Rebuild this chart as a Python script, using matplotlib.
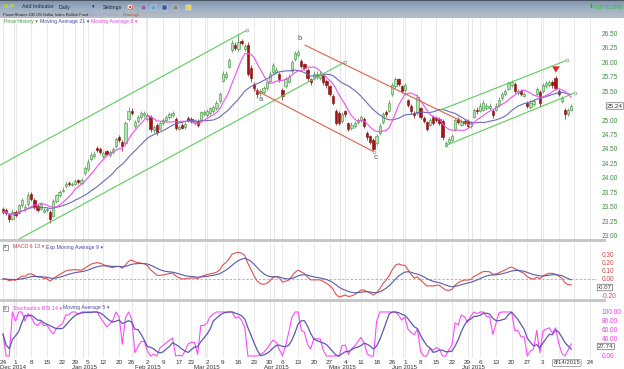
import matplotlib
matplotlib.use("Agg")
import matplotlib.pyplot as plt
import matplotlib.transforms as mtransforms
from matplotlib.patches import Rectangle, Circle
import numpy as np
import pandas as pd

plt.rcParams["font.family"] = ["Liberation Sans", "DejaVu Sans"]

# ---- datos (UUP diario, 24 nov 2014 - 14 ago 2015) ----
feriados = ["2014-11-27", "2014-12-25", "2015-01-01", "2015-01-19", "2015-02-16",
            "2015-04-03", "2015-05-25", "2015-07-03"]

opens = [23.47, 23.45, 23.36, 23.30, 23.42, 23.40, 23.53, 23.46, 23.55, 23.72,
         23.62, 23.52, 23.47, 23.42, 23.44, 23.42, 23.35, 23.60, 23.70, 23.78,
         23.86, 23.92, 23.88, 23.90, 23.96, 23.92, 24.08, 24.15, 24.32, 24.38,
         24.52, 24.50, 24.38, 24.46, 24.40, 24.44, 24.55, 24.70, 24.62, 24.60,
         25.02, 25.16, 24.90, 24.98, 25.05, 25.08, 25.02, 25.05, 24.82, 24.92,
         24.85, 24.95, 25.00, 25.05, 25.08, 25.02, 24.85, 24.92, 24.88, 25.04,
         25.02, 24.94, 24.98, 25.00, 25.10, 25.08, 25.12, 25.15, 25.20, 25.32,
         25.68, 25.74, 25.92, 26.20, 26.30, 26.22, 26.36, 26.22, 26.30, 25.90,
         25.62, 25.52, 25.46, 25.48, 25.55, 25.68, 25.82, 25.82, 25.80, 25.52,
         25.58, 25.66, 25.84, 26.05, 26.12, 26.02, 25.96, 25.86, 25.70, 25.72,
         25.74, 25.72, 25.78, 25.68, 25.58, 25.42, 25.16, 25.12, 24.98, 25.15,
         24.94, 24.86, 24.90, 24.96, 25.00, 25.02, 24.78, 24.72, 24.66, 24.60,
         24.78, 24.96, 25.14, 25.16, 25.45, 25.58, 25.70, 25.58, 25.52, 25.34,
         25.24, 25.12, 25.12, 25.20, 25.04, 24.96, 24.92, 25.05, 25.04, 25.02,
         24.98, 24.56, 24.62, 24.66, 24.84, 25.02, 24.92, 24.99, 24.98, 24.90,
         25.06, 25.18, 25.16, 25.18, 25.20, 25.20, 25.16, 25.18, 25.26, 25.38,
         25.44, 25.54, 25.60, 25.62, 25.46, 25.50, 25.42, 25.30, 25.22, 25.28,
         25.45, 25.48, 25.50, 25.58, 25.60, 25.66, 25.72, 25.50, 25.33, 25.18,
         25.10, 25.18]
highs = [23.50, 23.48, 23.40, 23.46, 23.45, 23.56, 23.66, 23.55, 23.76, 23.76,
         23.65, 23.55, 23.58, 23.49, 23.50, 23.45, 23.63, 23.73, 23.79, 23.84,
         23.94, 23.95, 23.93, 23.98, 23.99, 24.00, 24.20, 24.32, 24.44, 24.46,
         24.55, 24.53, 24.47, 24.49, 24.48, 24.54, 24.70, 24.74, 24.65, 24.98,
         25.22, 25.20, 25.00, 25.08, 25.16, 25.16, 25.12, 25.08, 24.92, 24.95,
         24.98, 25.04, 25.08, 25.14, 25.16, 25.05, 24.92, 24.95, 24.97, 25.07,
         25.05, 25.01, 25.01, 25.16, 25.17, 25.19, 25.23, 25.26, 25.34, 25.49,
         25.84, 25.84, 26.07, 26.38, 26.34, 26.48, 26.40, 26.31, 26.34, 25.94,
         25.66, 25.55, 25.54, 25.59, 25.68, 25.84, 25.99, 25.91, 25.83, 25.56,
         25.74, 25.79, 26.04, 26.19, 26.21, 26.06, 25.99, 25.89, 25.73, 25.84,
         25.84, 25.84, 25.81, 25.71, 25.61, 25.45, 25.19, 25.15, 25.14, 25.18,
         24.97, 24.96, 24.99, 25.04, 25.08, 25.05, 24.81, 24.75, 24.69, 24.76,
         24.94, 25.14, 25.17, 25.34, 25.64, 25.74, 25.73, 25.61, 25.64, 25.37,
         25.27, 25.15, 25.44, 25.23, 25.07, 24.99, 25.04, 25.08, 25.07, 25.05,
         25.01, 24.64, 24.71, 24.76, 25.04, 25.05, 25.01, 25.02, 25.01, 24.99,
         25.21, 25.22, 25.29, 25.34, 25.29, 25.29, 25.19, 25.29, 25.39, 25.49,
         25.54, 25.67, 25.69, 25.65, 25.54, 25.53, 25.49, 25.33, 25.34, 25.36,
         25.57, 25.51, 25.64, 25.67, 25.69, 25.69, 25.76, 25.53, 25.42, 25.21,
         25.21, 25.28]
lows = [23.38, 23.37, 23.24, 23.28, 23.33, 23.38, 23.50, 23.43, 23.52, 23.60,
        23.47, 23.41, 23.44, 23.40, 23.41, 23.22, 23.33, 23.57, 23.67, 23.75,
        23.83, 23.87, 23.86, 23.88, 23.90, 23.89, 24.05, 24.12, 24.29, 24.35,
        24.45, 24.42, 24.35, 24.39, 24.37, 24.41, 24.52, 24.62, 24.47, 24.57,
        24.99, 25.08, 24.86, 24.95, 25.02, 25.05, 24.99, 24.80, 24.78, 24.75,
        24.82, 24.92, 24.97, 25.02, 25.05, 24.83, 24.82, 24.84, 24.85, 24.97,
        24.95, 24.91, 24.88, 24.97, 25.07, 25.05, 25.09, 25.12, 25.17, 25.29,
        25.65, 25.71, 25.89, 26.17, 26.20, 26.19, 26.29, 26.19, 25.76, 25.66,
        25.50, 25.38, 25.42, 25.45, 25.52, 25.65, 25.79, 25.79, 25.66, 25.34,
        25.55, 25.63, 25.81, 26.02, 26.09, 25.89, 25.86, 25.68, 25.61, 25.69,
        25.71, 25.69, 25.61, 25.56, 25.41, 25.26, 24.91, 24.91, 24.95, 25.06,
        24.81, 24.83, 24.87, 24.93, 24.97, 24.86, 24.66, 24.58, 24.45, 24.57,
        24.75, 24.93, 25.06, 25.13, 25.42, 25.55, 25.58, 25.46, 25.49, 25.22,
        25.11, 25.04, 25.09, 25.01, 24.94, 24.81, 24.89, 24.91, 24.96, 24.91,
        24.66, 24.53, 24.59, 24.63, 24.81, 24.93, 24.89, 24.91, 24.86, 24.87,
        25.03, 25.11, 25.13, 25.15, 25.17, 25.17, 25.04, 25.15, 25.23, 25.35,
        25.41, 25.51, 25.57, 25.46, 25.43, 25.41, 25.39, 25.21, 25.19, 25.25,
        25.42, 25.22, 25.47, 25.55, 25.57, 25.56, 25.51, 25.41, 25.30, 25.02,
        25.07, 25.15]
closes = [23.42, 23.40, 23.29, 23.42, 23.36, 23.53, 23.62, 23.50, 23.70, 23.64,
          23.50, 23.45, 23.55, 23.45, 23.47, 23.30, 23.60, 23.70, 23.75, 23.80,
          23.90, 23.90, 23.90, 23.95, 23.93, 23.97, 24.17, 24.28, 24.40, 24.42,
          24.48, 24.45, 24.43, 24.42, 24.45, 24.50, 24.67, 24.65, 24.55, 24.95,
          25.15, 25.12, 24.97, 25.05, 25.12, 25.12, 25.08, 24.85, 24.88, 24.80,
          24.95, 25.00, 25.05, 25.10, 25.12, 24.87, 24.88, 24.87, 24.93, 25.00,
          24.98, 24.98, 24.92, 25.13, 25.13, 25.15, 25.20, 25.22, 25.30, 25.45,
          25.80, 25.80, 26.03, 26.33, 26.25, 26.35, 26.33, 26.27, 25.80, 25.72,
          25.55, 25.45, 25.50, 25.55, 25.65, 25.80, 25.95, 25.87, 25.70, 25.42,
          25.70, 25.75, 26.00, 26.15, 26.17, 25.93, 25.90, 25.72, 25.65, 25.80,
          25.80, 25.80, 25.65, 25.60, 25.45, 25.30, 24.95, 24.95, 25.10, 25.10,
          24.85, 24.92, 24.95, 25.00, 25.05, 24.90, 24.70, 24.62, 24.50, 24.72,
          24.90, 25.10, 25.10, 25.30, 25.60, 25.70, 25.62, 25.50, 25.60, 25.26,
          25.15, 25.08, 25.40, 25.05, 24.98, 24.85, 25.00, 24.95, 25.00, 24.95,
          24.70, 24.60, 24.67, 24.72, 25.00, 24.97, 24.97, 24.95, 24.90, 24.95,
          25.17, 25.15, 25.25, 25.30, 25.25, 25.25, 25.08, 25.25, 25.35, 25.45,
          25.50, 25.63, 25.65, 25.50, 25.50, 25.45, 25.45, 25.25, 25.30, 25.32,
          25.53, 25.30, 25.60, 25.63, 25.65, 25.60, 25.55, 25.45, 25.38, 25.10,
          25.17, 25.24]

# canales dibujados (indice de sesion, precio)
canal_verde_inf = [(4.5, 22.93), (108.9, 26.00)]
canal_verde_sup = [(-1.0, 24.22), (77.7, 26.55)]
canal_rojo_sup = [(96.2, 26.29), (148.7, 24.91)]
canal_rojo_inf = [(80.3, 25.52), (118.2, 24.45)]
canal2_sup = [(139.2, 25.17), (179.6, 26.03)]
canal2_inf = [(141.4, 24.57), (182.2, 25.47)]
etiquetas_ondas = [("a", 82.2, 25.36), ("b", 94.6, 26.41), ("c", 118.8, 24.36)]
flecha = (176.1, 25.84)

precio_ticks = [26.50, 26.25, 26.00, 25.75, 25.50, 25.00, 24.75, 24.50, 24.25,
                24.00, 23.75, 23.50, 23.25, 23.00]
macd_ticks = [0.30, 0.20, 0.10, 0.00, -0.20]
stoch_ticks = [100, 80, 60, 40, 0]

# ---- indicadores ----
dias = pd.bdate_range("2014-11-24", "2015-08-28")
dias = dias[~dias.isin(pd.to_datetime(feriados))]
n = len(closes)
x = np.arange(n)
c = pd.Series(closes)
ma21 = c.rolling(21, min_periods=1).mean()
ma8 = c.rolling(8, min_periods=1).mean()
macd = c.ewm(span=6, adjust=False).mean() - c.ewm(span=13, adjust=False).mean()
senal = macd.ewm(span=9, adjust=False).mean()
d = c.diff().fillna(0)
g = d.clip(lower=0).ewm(alpha=1 / 14, adjust=False).mean()
p = (-d.clip(upper=0)).ewm(alpha=1 / 14, adjust=False).mean()
rsi = (100 - 100 / (1 + g / p.replace(0, np.nan))).fillna(50)
lo, hi = rsi.rolling(14, min_periods=1).min(), rsi.rolling(14, min_periods=1).max()
stoch = ((rsi - lo) / (hi - lo).replace(0, np.nan) * 100).fillna(50)
stoch_ma = stoch.rolling(5, min_periods=1).mean()

# ---- figura ----
W, H = 624, 369
fig = plt.figure(figsize=(W / 100, H / 100), dpi=100)
fig.patch.set_facecolor("white")
px = mtransforms.Affine2D().scale(1 / W, -1 / H).translate(0, 1) + fig.transFigure


def panel(y0, y1):
    ax = fig.add_axes([0, 1 - y1 / H, 597 / W, (y1 - y0) / H])
    for s in ax.spines.values():
        s.set_visible(False)
    ax.set_xlim(-0.96, 189.2)
    ax.set_xticks([])
    ax.yaxis.tick_right()
    ax.tick_params(axis="y", length=0, labelsize=4.7, pad=3.5)
    return ax


ax1 = panel(18, 239)
ax1.set_ylim(22.948, 26.759)
ax2 = panel(243, 299)
ax2.set_ylim(-0.244, 0.439)
ax3 = panel(302, 358)
ax3.set_ylim(-4.55, 122.7)

# rejilla semanal / mensual
semana = [0] + [i for i in range(1, len(dias)) if dias[i].weekday() < dias[i - 1].weekday()]
mes = [i for i in range(1, len(dias)) if dias[i].month != dias[i - 1].month]
for ax in (ax1, ax2, ax3):
    for i in semana:
        ax.axvline(i, color="#e6e6e6", lw=0.6, zorder=0)
    for i in mes:
        ax.axvline(i - 0.6, color="#dcdcdc", lw=0.5, zorder=0)

# velas
o = np.array(opens)
cl = np.array(closes)
sube = cl >= o
ax1.vlines(x, lows, highs, colors=np.where(sube, "#3a8f3a", "#8a1010"), lw=0.5, zorder=2)
ax1.bar(x, np.maximum(np.abs(cl - o), 0.012), bottom=np.minimum(o, cl), width=0.72,
        color=np.where(sube, "#b6e2b6", "#a81414"),
        edgecolor=np.where(sube, "#3a8f3a", "#7a0a0a"), lw=0.4, zorder=3)
ax1.plot(x, ma21, color="#6a6ab8", lw=0.8, zorder=4)
ax1.plot(x, ma8, color="#f050f0", lw=0.8, zorder=4)

for linea, col in [(canal_verde_inf, "#5ccc5c"), (canal_verde_sup, "#5ccc5c"),
                   (canal_rojo_sup, "#e0604c"), (canal_rojo_inf, "#e0604c"),
                   (canal2_sup, "#5ccc5c"), (canal2_inf, "#5ccc5c")]:
    xs, ys = zip(*linea)
    ax1.plot(xs, ys, color=col, lw=0.8, zorder=5)
    ax1.plot(xs[1:], ys[1:], "o", ms=2, mfc="white", mec="#999999", mew=0.5, zorder=6)
for t, xi, yi in etiquetas_ondas:
    ax1.text(xi, yi, t, fontsize=5.5, color="#555555", ha="center", va="center")
ax1.annotate("", xy=(flecha[0], flecha[1] - 0.07), xytext=(flecha[0], flecha[1] + 0.09),
             arrowprops=dict(arrowstyle="simple,head_width=0.55,head_length=0.45,tail_width=0.3",
                             color="#e82020", lw=0))

ax1.set_yticks(precio_ticks)
ax1.set_yticklabels([f"{v:.2f}" for v in precio_ticks], color="#3f8f3f")

# MACD
ax2.axhline(0, color="#aaaaaa", lw=0.6, ls=(0, (3, 2)), zorder=1)
ax2.plot(x, macd, color="#e05050", lw=0.8)
ax2.plot(x, senal, color="#5a5aaa", lw=0.8)
ax2.set_yticks(macd_ticks)
ax2.set_yticklabels([f"{v:.2f}" for v in macd_ticks], color="#d04848")

# Stoch RSI
ax3.plot(x, stoch, color="#ff48ff", lw=0.8)
ax3.plot(x, stoch_ma, color="#5a5aaa", lw=0.9)
ax3.set_yticks(stoch_ticks)
ax3.set_yticklabels([f"{v:.2f}" for v in stoch_ticks], color="#e840e8")

caja = dict(boxstyle="round,pad=0.12", fc="white", ec="#666666", lw=0.5)
fig.text(607, 106, f"{closes[-1]:.2f}", transform=px, fontsize=4.6, color="#333333",
         va="center", ha="left", bbox=caja)
fig.text(598, 287.5, f"{macd.iloc[-1]:.2f}", transform=px, fontsize=4.4, color="#333333",
         va="center", ha="left", bbox=caja)
fig.text(598, 346.5, f"{stoch.iloc[-1]:.2f}", transform=px, fontsize=4.4, color="#333333",
         va="center", ha="left", bbox=caja)

# separadores de paneles
for yy in (240.5, 300.5):
    fig.add_artist(Rectangle((0, yy - 1.2), 606, 2.4, transform=px, fc="#c8c8c8", ec="none"))

# eje de fechas
tx = mtransforms.blended_transform_factory(ax3.transData, px)
ocultos = {pd.Timestamp("2015-08-10"), pd.Timestamp("2015-08-17")}
for i in semana:
    if dias[i] in ocultos:
        continue
    fig.text(i, 362, str(dias[i].day), transform=tx, fontsize=4.6, color="#333333",
             ha="center", va="center")
for i in mes:
    if dias[i].month in (8, 12):
        continue
    fig.text(i, 365.3, dias[i].strftime("%b %Y"), transform=tx, fontsize=4.4,
             color="#333333", ha="center", va="top")
fig.text(0.5, 365.3, "Dec 2014", transform=px, fontsize=4.4, color="#333333", ha="left", va="top")
fig.text(179.6, 363, "8/14/2015", transform=tx, fontsize=4.3, color="#333333", ha="center",
         va="center", bbox=dict(boxstyle="round,pad=0.15", fc="white", ec="#888888", lw=0.5))


# leyendas de los paneles
def leyenda(y, partes, fs=3.8):
    for xx, txt, col in partes:
        fig.text(xx, y, txt, transform=px, fontsize=fs, color=col, va="center", ha="left")


leyenda(22, [(4, "Price History ▾", "#3a9a3a"), (40, "Moving Average 21 ▾", "#4a4aa8"),
             (91, "Moving Average 8 ▾", "#ee44ee")])
leyenda(247, [(13, "MACD 6 13 ▾", "#d04444"), (46, "Exp Moving Average 9 ▾", "#4a4aa8")])
leyenda(308, [(13, "Stochastics RSI 14 ▾", "#e840e8"), (63, "Moving Average 5 ▾", "#4a4aa8")])
for yy in (247, 308):
    fig.add_artist(Rectangle((3, yy - 2.5), 5, 5, transform=px, fc="white", ec="#777777", lw=0.5))
    fig.text(5.5, yy, "x", transform=px, fontsize=3.5, color="#444444", ha="center", va="center")

# barra superior
cab = fig.add_axes([0, 1 - 18 / H, 1, 18 / H])
grad = np.linspace(0, 1, 50).reshape(-1, 1)
cab.imshow(grad, aspect="auto", cmap=matplotlib.colors.LinearSegmentedColormap.from_list(
    "cab", ["#7f93ab", "#9fb1c6", "#b9bdc2"]), extent=[0, 1, 0, 1], origin="upper")
cab.axis("off")
fig.add_artist(Rectangle((0, 0), W, 1, transform=px, fc="#4a5666", ec="none"))
fig.text(3, 7, "UUP", transform=px, fontsize=4.2, color="#d8d820", va="center", weight="bold")
fig.text(22, 7, "Add Indicator", transform=px, fontsize=3.8, color="#1e2430", va="center")
fig.text(59, 7, "Daily", transform=px, fontsize=3.8, color="#1e2430", va="center")
fig.text(92, 7, "▾", transform=px, fontsize=3.8, color="#1e2430", va="center")
fig.text(103, 7, "Settings", transform=px, fontsize=3.8, color="#1e2430", va="center")
iconos = [(130, "#d83a2a"), (143, "#8a6ab8"), (153, "#5aaadd"), (164, "#3b5998"),
          (175, "#8a8a8a"), (188, "#e8d44a")]
for xx, col in iconos:
    fig.add_artist(Rectangle((xx - 2.5, 4.5), 5, 5, transform=px, fc=col, ec="#eeeeee", lw=0.3))
fig.add_artist(Circle((130, 7), 2.2, transform=px, fc="white", ec="none"))
fig.add_artist(Circle((130, 7), 1.2, transform=px, fc="#d83a2a", ec="none"))
fig.text(591, 6.5, "⬆", transform=px, fontsize=4.2, color="#22aa22", va="center", ha="center")
fig.text(623, 7, "0.07 (0.28%)", transform=px, fontsize=3.6, color="#22c022", va="center",
         ha="right")
fig.text(3, 15, "PowerShares DB US Dollar Index Bullish Fund", transform=px, fontsize=3.0,
         color="#222222", va="center")
fig.text(90, 15, "Add to Portfolio", transform=px, fontsize=3.0, color="#9aa4d4", va="center")
fig.text(123, 15, "Drawings", transform=px, fontsize=3.0, color="#b0582a", va="center")

fig.savefig("out.png", dpi=100)
